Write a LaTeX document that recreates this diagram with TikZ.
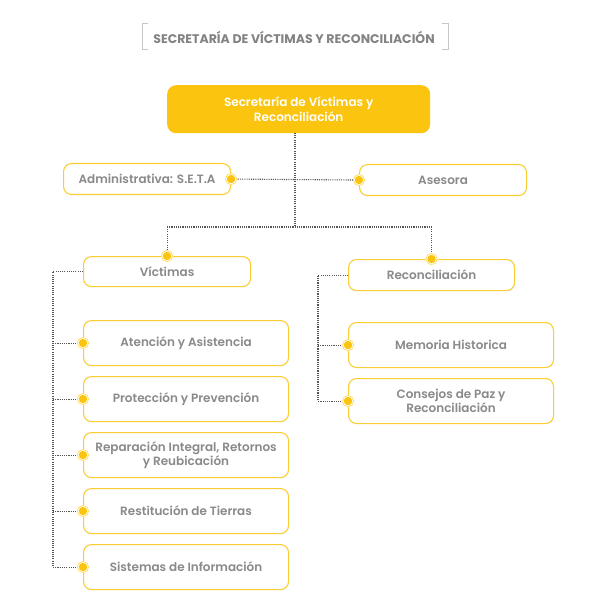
\documentclass[tikz,border=0pt]{standalone}
\usepackage{fontspec}
\setmainfont{Poppins}[BoldFont={Poppins SemiBold}]
\newfontfamily\titlefont{Poppins Bold}
\definecolor{ylw}{HTML}{FBC40F}
\definecolor{ylwline}{HTML}{FBCD35}
\definecolor{ring}{HTML}{FDDC6E}
\definecolor{txt}{HTML}{8A8A8A}
\definecolor{dotl}{HTML}{555555}
\tikzset{
  box/.style={draw=ylwline, line width=1.1pt, rounded corners=8pt, fill=white,
    text=txt, font=\bfseries\fontsize{12}{14}\selectfont, align=center, inner sep=0pt, anchor=north west},
  mainbox/.style={fill=ylw, rounded corners=9pt, text=white,
    font=\bfseries\fontsize{12}{14.5}\selectfont, align=center, inner sep=0pt, anchor=north west},
  conn/.style={draw=dotl, line width=1.1pt, dash pattern=on 1.1pt off 1.1pt},
}
\newcommand{\ydot}[1]{%
  \fill[white] (#1) circle (6pt);
  \draw[ring, line width=0.8pt] (#1) circle (5.6pt);
  \fill[ylw] (#1) circle (4.2pt);}
\begin{document}
\begin{tikzpicture}[x=1pt,y=-1pt]
\useasboundingbox[fill=white] (0,0) rectangle (589,609);
% title
\node[text=txt!95!black, font=\titlefont\fontsize{12.5}{14}\selectfont] (title) at (294,37) {SECRETARÍA DE VÍCTIMAS Y RECONCILIACIÓN};
\draw[gray!45, line width=0.6pt] (148,23) -- (142,23) -- (142,49) -- (148,49);
\draw[gray!45, line width=0.6pt] (442,23) -- (448,23) -- (448,49) -- (442,49);
% boxes
\node[mainbox, minimum width=263, minimum height=48] (main) at (167,85) {Secretaría de Víctimas y\\Reconciliación};
\node[box, minimum width=167, minimum height=31] (adm) at (63,163) {Administrativa: S.E.T.A};
\node[box, minimum width=167, minimum height=31] (ase) at (359,164) {Asesora};
\node[box, minimum width=167, minimum height=30] (vic) at (83,256) {Víctimas};
\node[box, minimum width=166, minimum height=31] (rec) at (348,259) {Reconciliación};
\node[box, minimum width=205, minimum height=45] (ate) at (83,320) {Atención y Asistencia};
\node[box, minimum width=205, minimum height=45] (pro) at (83,376) {Protección y Prevención};
\node[box, minimum width=205, minimum height=45] (rep) at (83,432) {Reparación Integral, Retornos\\y Reubicación};
\node[box, minimum width=205, minimum height=45] (res) at (83,488) {Restitución de Tierras};
\node[box, minimum width=205, minimum height=45] (sis) at (83,544) {Sistemas de Información};
\node[box, minimum width=205, minimum height=45] (mem) at (348,322) {Memoria Historica};
\node[box, minimum width=205, minimum height=45] (con) at (348,378) {Consejos de Paz y\\Reconciliación};
% coordinates
\coordinate (mb) at (295,133);
\coordinate (j1) at (295,227);
\coordinate (jl) at (vic.north |- j1);
\coordinate (jr) at (rec.north |- j1);
\coordinate (vl) at (53,0);
\coordinate (rl) at (318,0);
% connectors
\draw[conn] (mb) -- (j1);
\draw[conn] (adm.east) -- (ase.west);
\draw[conn] (jl) -- (jr);
\draw[conn] (jl) -- (vic.north);
\draw[conn] (jr) -- (rec.north);
\draw[conn] (vic.west) -- (vl |- vic.west) -- (vl |- sis.west) -- (sis.west);
\foreach \n in {ate,pro,rep,res} \draw[conn] (vl |- \n.west) -- (\n.west);
\draw[conn] (rec.west) -- (rl |- rec.west) -- (rl |- con.west) -- (con.west);
\draw[conn] (rl |- mem.west) -- (mem.west);
% dots
\ydot{adm.east}
\ydot{ase.west}
\ydot{vic.north}
\ydot{rec.north}
\foreach \n in {ate,pro,rep,res,sis,mem,con} {\ydot{\n.west}}
\end{tikzpicture}
\end{document}
